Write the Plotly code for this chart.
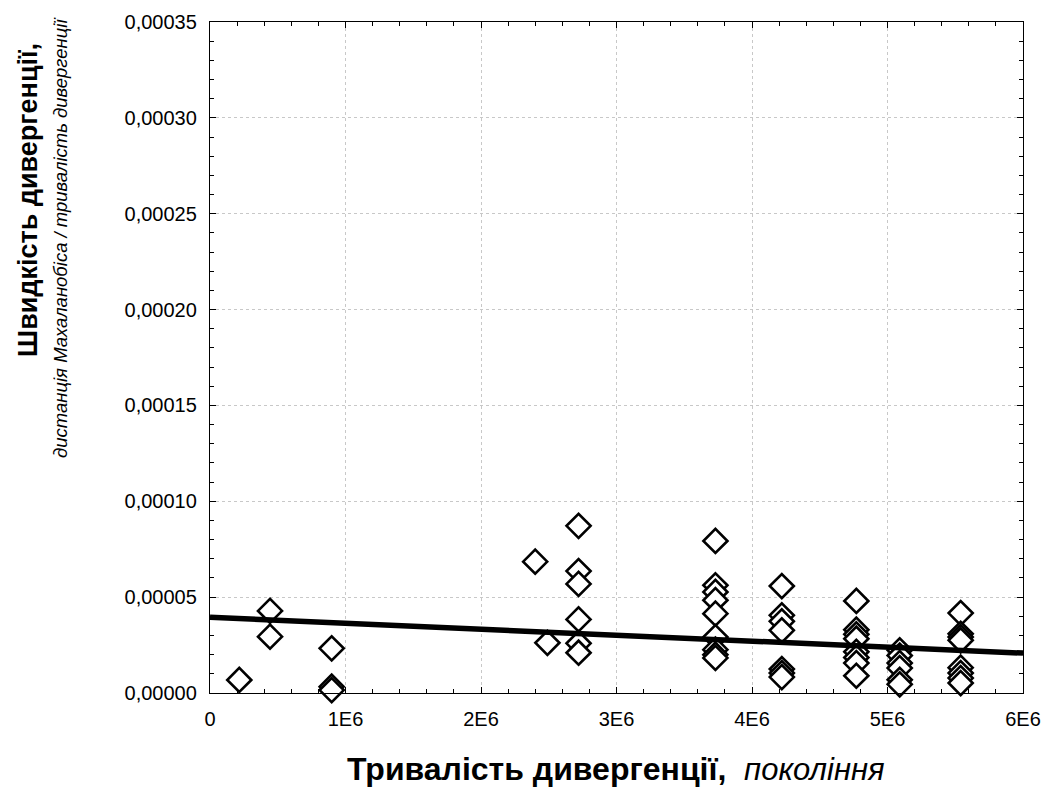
import plotly.graph_objects as go

# Divergence duration (generations) and divergence rate
generation_x = (
    [0.216e6]
    + [0.443e6] * 2
    + [0.898e6] * 3
    + [2.40e6]
    + [2.49e6]
    + [2.72e6] * 6
    + [3.73e6] * 9
    + [4.22e6] * 7
    + [4.77e6] * 8
    + [5.09e6] * 6
    + [5.54e6] * 8
)
rate_y = [
    0.68e-5,
    4.28e-5, 2.94e-5,
    2.33e-5, 0.33e-5, 0.15e-5,
    6.85e-5,
    2.62e-5,
    8.72e-5, 6.36e-5, 5.69e-5, 3.84e-5, 2.59e-5, 2.10e-5,
    7.93e-5, 5.62e-5, 5.27e-5, 4.84e-5, 4.14e-5, 2.92e-5, 2.26e-5, 2.00e-5, 1.83e-5,
    5.58e-5, 4.05e-5, 3.74e-5, 3.27e-5, 1.25e-5, 1.04e-5, 0.83e-5,
    4.80e-5, 3.30e-5, 3.06e-5, 2.83e-5, 2.15e-5, 1.85e-5, 1.56e-5, 0.90e-5,
    2.23e-5, 1.95e-5, 1.56e-5, 1.30e-5, 0.69e-5, 0.45e-5,
    4.17e-5, 3.09e-5, 2.92e-5, 2.75e-5, 1.32e-5, 1.04e-5, 0.78e-5, 0.52e-5,
]

# Linear fit line endpoints
fit_x = [0, 6e6]
fit_y = [3.95e-5, 2.08e-5]

x_tickvals = [0, 1e6, 2e6, 3e6, 4e6, 5e6, 6e6]
x_ticktext = ["0", "1E6", "2E6", "3E6", "4E6", "5E6", "6E6"]
y_tickvals = [0, 0.00005, 0.0001, 0.00015, 0.0002, 0.00025, 0.0003, 0.00035]

FONT = "Liberation Sans, Arial, sans-serif"

fig = go.Figure()
fig.add_trace(go.Scatter(
    x=generation_x, y=rate_y, mode="markers",
    marker=dict(symbol="diamond", size=18.5, color="white",
                line=dict(color="black", width=2.6)),
    cliponaxis=False, showlegend=False,
))
fig.add_trace(go.Scatter(
    x=fit_x, y=fit_y, mode="lines",
    line=dict(color="black", width=5.5),
    showlegend=False,
))

axis_common = dict(
    showline=True, linecolor="black", linewidth=1.3, mirror="ticks",
    ticks="inside", ticklen=6, tickcolor="black", tickwidth=1.2,
    showgrid=True, gridcolor="#c8c8c8", griddash="dot", gridwidth=1,
    zeroline=False,
    tickfont=dict(family=FONT, size=20, color="black"),
)

fig.update_xaxes(
    range=[0, 6e6], tickvals=x_tickvals, ticktext=x_ticktext,
    minor=dict(dtick=2e5, ticks="inside", ticklen=4, tickcolor="black", showgrid=False),
    ticklabelstandoff=8,
    **axis_common,
)
fig.update_yaxes(
    range=[0, 0.00035], tickvals=y_tickvals, tickformat=".5f",
    minor=dict(dtick=1e-5, ticks="inside", ticklen=4, tickcolor="black", showgrid=False),
    ticklabelstandoff=8,
    **axis_common,
)

L, R, T, B = 210, 32, 22, 96
W, H = 1055, 789
pw, ph = W - L - R, H - T - B

def px_x(p):
    return (p - L) / pw

def px_y(p):
    return (H - B - p) / ph

fig.add_annotation(
    x=px_x(616), y=px_y(769), xref="paper", yref="paper",
    xanchor="center", yanchor="middle", showarrow=False,
    text="<b>Тривалість дивергенції,</b>  <i><span style='font-size:31px'>покоління</span></i>",
    font=dict(family=FONT, size=32, color="black"),
)
fig.add_annotation(
    x=px_x(28), y=px_y(200), xref="paper", yref="paper",
    xanchor="center", yanchor="middle", showarrow=False, textangle=-90,
    text="<b>Швидкість дивергенції,</b>",
    font=dict(family=FONT, size=27, color="black"),
)
fig.add_annotation(
    x=px_x(60), y=px_y(238), xref="paper", yref="paper",
    xanchor="center", yanchor="middle", showarrow=False, textangle=-90,
    text="<i>дистанція Махаланобіса / тривалість дивергенції</i>",
    font=dict(family=FONT, size=18.5, color="black"),
)

fig.update_layout(
    width=W, height=H,
    margin=dict(l=L, r=R, t=T, b=B),
    plot_bgcolor="white", paper_bgcolor="white",
    separators=", ",
    font=dict(family=FONT, color="black"),
)

fig.write_html("out.html")
